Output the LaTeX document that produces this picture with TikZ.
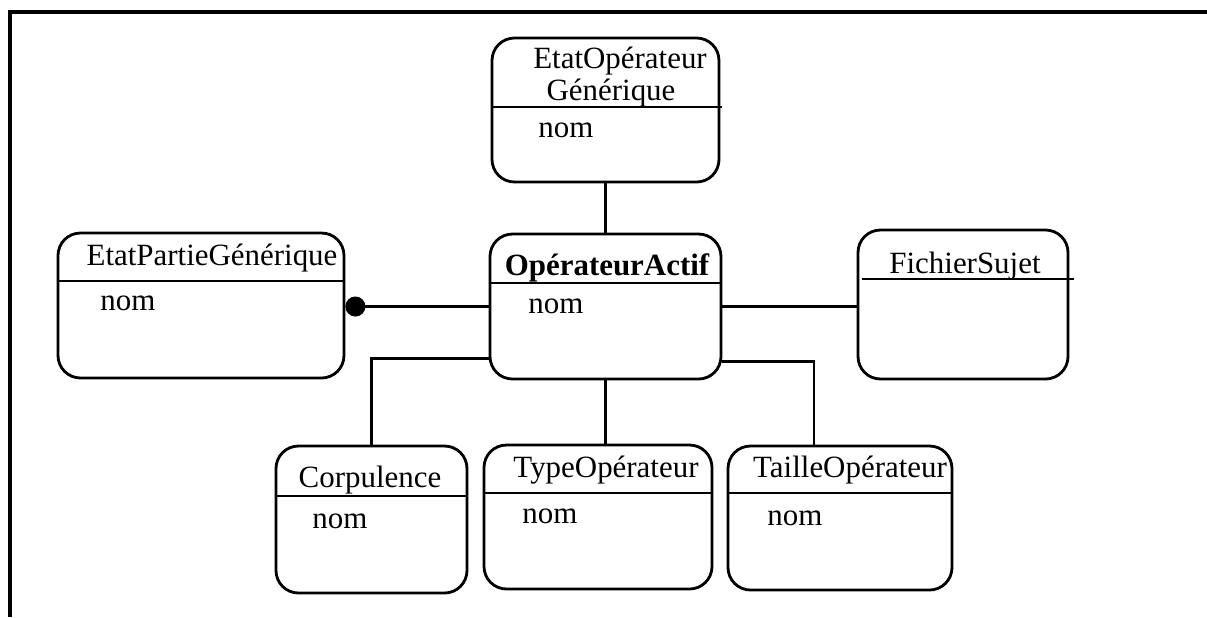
\documentclass[tikz,border=0pt]{standalone}
\usepackage{fontspec}
\setmainfont{Liberation Serif}
\usepackage{tikz}
\usetikzlibrary{arrows.meta,calc}

\begin{document}
\begin{tikzpicture}
            \tikzstyle{classe}=[draw, line width=1.6pt, rounded corners=4.5mm, inner sep=0pt]
            \tikzstyle{titre}=[anchor=base, inner sep=0pt, font=\fontsize{17.6pt}{20pt}\selectfont]
            \tikzstyle{attr}=[anchor=base west, inner sep=0pt, font=\fontsize{17.6pt}{20pt}\selectfont]
            \tikzstyle{lien}=[line width=1.4pt]
            \useasboundingbox (0,0) rectangle (24.14,-12.34);
            % cadre
            \coordinate (cadreA) at (0.20,-12.34);
            \coordinate (cadreB) at (0.20,-0.24);
            \coordinate (cadreC) at (24.14,-0.24);
            \draw[line width=1.8pt] (cadreA) -- (cadreB) -- (cadreC);
            % classes
            \node[classe, minimum width=4.54cm, minimum height=2.88cm] (eog) at (12.11,-2.20) {};
            \node[classe, minimum width=4.62cm, minimum height=2.90cm] (oa) at (12.11,-6.13) {};
            \node[classe, minimum width=5.72cm, minimum height=2.90cm] (epg) at (4.02,-6.11) {};
            \node[classe, minimum width=4.20cm, minimum height=2.98cm] (fs) at (19.26,-6.09) {};
            \node[classe, minimum width=3.82cm, minimum height=2.94cm] (corp) at (7.43,-10.39) {};
            \node[classe, minimum width=4.56cm, minimum height=2.88cm] (typ) at (11.96,-10.34) {};
            \node[classe, minimum width=4.48cm, minimum height=2.88cm] (tai) at (16.80,-10.36) {};
            % separations
            \draw[line width=1.6pt] (eog.west |- 0,-2.14) -- ($(eog.east |- 0,-2.14)+(0.04,0)$);
            \draw[line width=1.6pt] (oa.west |- 0,-5.66) -- (oa.east |- 0,-5.66);
            \draw[line width=1.6pt] (epg.west |- 0,-5.62) -- (epg.east |- 0,-5.62);
            \draw[line width=1.6pt] ($(fs.west |- 0,-5.58)+(0.1,0)$) -- ($(fs.east |- 0,-5.58)+(0.1,0)$);
            \draw[line width=1.6pt] (corp.west |- 0,-9.92) -- (corp.east |- 0,-9.92);
            \draw[line width=1.6pt] (typ.west |- 0,-9.86) -- (typ.east |- 0,-9.86);
            \draw[line width=1.6pt] (tai.west |- 0,-9.86) -- (tai.east |- 0,-9.86);
            % textes
            \node[titre] (eogA) at (12.40,-1.36) {EtatOpérateur};
            \node[titre] (eogB) at (12.22,-2.00) {Générique};
            \node[attr] (eogN) at (10.76,-2.74) {nom};
            \node[titre] (oaT) at (12.14,-5.50) {\bfseries OpérateurActif};
            \node[attr] (oaN) at (10.56,-6.26) {nom};
            \node[titre] (epgT) at (4.24,-5.30) {EtatPartieGénérique};
            \node[attr] (epgN) at (2.00,-6.20) {nom};
            \node[titre] (fsT) at (19.30,-5.46) {FichierSujet};
            \node[titre] (corpT) at (7.40,-9.74) {Corpulence};
            \node[attr] (corpN) at (6.24,-10.56) {nom};
            \node[titre] (typT) at (12.12,-9.54) {TypeOpérateur};
            \node[attr] (typN) at (10.44,-10.46) {nom};
            \node[titre] (taiT) at (17.00,-9.54) {TailleOpérateur};
            \node[attr] (taiN) at (15.34,-10.50) {nom};
            % liens
            \path [lien] (eog) edge[] (oa);
            \path [lien, -{Circle[length=4mm]}] (oa.west) edge[] (oa.west -| epg.east);
            \path [lien] (oa.east) edge[] (oa.east -| fs.west);
            \path [lien] (oa.south) edge[] (oa.south |- typ.north);
            \draw[lien] ($(oa.south west)+(0,0.44)$) -| (corp.north);
            \draw[lien] ($(oa.south east)+(0,0.38)$) -| ($(tai.north)+(-0.52,0)$);
        \end{tikzpicture}
\end{document}
